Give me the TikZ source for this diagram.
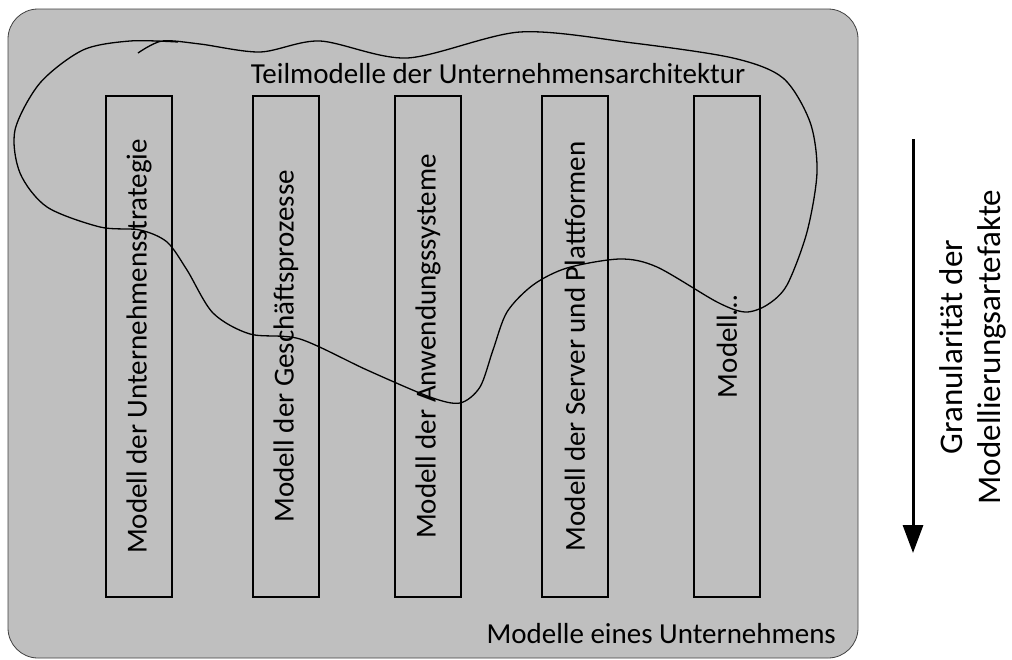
\documentclass[tikz,border=0pt]{standalone}
\usepackage{fontspec}
\setmainfont{Carlito}
\usepackage{tikz}
\usetikzlibrary{arrows.meta}

\definecolor{panelgray}{RGB}{191,191,191}
\definecolor{rimgray}{RGB}{64,64,64}

\begin{document}
\begin{tikzpicture}[x=1pt,y=-1pt,
  every node/.style={font=\fontsize{29}{35}\selectfont,inner sep=0pt},
  modelbox/.style={draw,line width=1.3pt,rotate=90,minimum width=501pt,minimum height=66pt},
  outline/.style={line width=1.3pt},
  granular/.style={line width=3pt,-{Triangle[width=20pt,length=28pt]}}]
  \useasboundingbox (0,0) rectangle (1012,659);
  %enterprise
  \draw[rimgray,fill=panelgray,rounded corners=30pt,line width=0.8pt] (8,9) rectangle (858,658);
  \node[anchor=base] (arch) at (498,83) {Teilmodelle der Unternehmensarchitektur};
  \node[anchor=base east] (ent) at (836,643) {Modelle eines Unternehmens};
  %partial models
  \node[modelbox] (strat) at (139,346.5) {Modell der Unternehmensstrategie};
  \node[modelbox] (proc) at (286,346.5) {Modell der Geschäftsprozesse};
  \node[modelbox] (app) at (428,346.5) {Modell der Anwendungssysteme};
  \node[modelbox] (srv) at (575,346.5) {Modell der Server und Plattformen};
  \node[modelbox] (misc) at (727,346.5) {Modell\dots};
  %architecture outline
  \draw[outline] plot[smooth,tension=0.5] coordinates {
    (138,53) (162,41) (200,44) (260,52) (320,41) (407,58) (520,32)
    (633,43) (733,58) (783,78) (810,122) (817,172) (807,232) (787,285)
    (767,305) (745,312) (717,302) (657,267) (620,259) (567,268) (533,285)
    (507,312) (493,350) (480,387) (460,403) (430,397) (367,370) (300,339)
    (250,334) (213,313) (187,270) (167,242) (140,230) (100,227) (47,207)
    (20,173) (15,130) (40,83) (83,50) (130,41) (178,42)};
  %granularity
  \coordinate (gtop) at (913,139);
  \coordinate (gbot) at (913,553);
  \draw[granular] (gtop) -- (gbot);
  \node[rotate=90,align=center,font=\fontsize{33}{38}\selectfont] (gran) at (973,347) {Granularität der\\Modellierungsartefakte};
\end{tikzpicture}
\end{document}
